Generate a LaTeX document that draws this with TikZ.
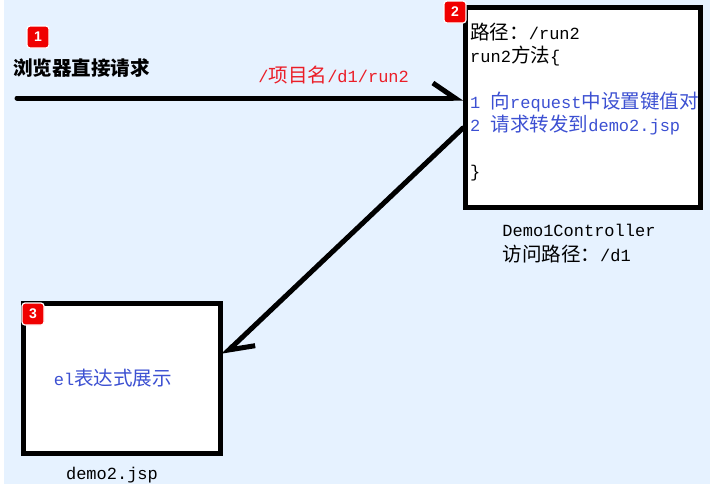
\documentclass[tikz,border=0pt]{standalone}
\usepackage{fontspec}
\setmainfont{Liberation Mono}
\newfontfamily\cjk{Noto Sans CJK SC}[Scale=1.15]
\newfontfamily\badgefont{Liberation Sans}
\usetikzlibrary{arrows.meta, positioning, calc}
\definecolor{bgblue}{RGB}{230,242,255}
\definecolor{txtblue}{RGB}{60,80,210}
\definecolor{txtred}{RGB}{235,30,40}
\definecolor{badgered}{RGB}{240,0,0}
\tikzset{
  box/.style={draw, line width=5pt, fill=white, inner sep=0pt},
  badge/.style={fill=badgered, draw=white, line width=1.2pt, rounded corners=3pt,
    minimum size=22pt, inner sep=0pt, text=white, font=\fontsize{14}{14}\badgefont\bfseries},
  flow/.style={line width=5pt, line cap=round, -{Straight Barb[harpoon, length=22pt, width=30pt]}},
}
\begin{document}
\begin{tikzpicture}[x=1pt, y=-1pt, font=\fontsize{17}{22}\selectfont]
    \useasboundingbox (0,0) rectangle (710,485);
    \fill[bgblue] (4,0) rectangle (710,484);
    \node[box, minimum width=235pt, minimum height=200pt] (ctrl) at (583,107.5) {};
    \node[box, minimum width=197pt, minimum height=150pt] (jsp) at (122,378.5) {};
    \node[badge] (b1) at (38,37) {1};
    \node[badge] (b2) at (455,12) {2};
    \node[badge] (b3) at (33,314) {3};
    \node[anchor=north west, align=left, inner sep=0pt, font=\fontsize{17}{23}\selectfont] (code) at (470,23)
      {{\cjk 路径：}/run2\\
       run2{\cjk 方法}\{\\[23pt]
       \textcolor{txtblue}{1 {\cjk 向}request{\cjk 中设置键值对}}\\
       \textcolor{txtblue}{2 {\cjk 请求转发到}demo2.jsp}\\[23pt]
       \}};
    \node[below=14pt of ctrl, xshift=-4pt, align=left, inner sep=0pt, font=\fontsize{17}{25}\selectfont] (ctrlname)
      {Demo1Controller\\{\cjk 访问路径：}/d1};
    \node[text=txtblue] (el) at ([xshift=-9pt]jsp.center) {el{\cjk 表达式展示}};
    \node[below=10.5pt of jsp, xshift=-10pt, inner sep=0pt] (jspname) {demo2.jsp};
    \node[anchor=west, inner sep=0pt] (browser) at (13,68) {\cjk\bfseries 浏览器直接请求};
    \coordinate (start) at (17,98);
    \draw[flow] (start) -- (start -| ctrl.west)
      node[pos=0.71, above=8pt, text=txtred] (url) {/{\cjk 项目名}/d1/run2};
    \draw[flow] ([yshift=-20.5pt]ctrl.west) -- ([yshift=23pt]jsp.east);
\end{tikzpicture}
\end{document}
